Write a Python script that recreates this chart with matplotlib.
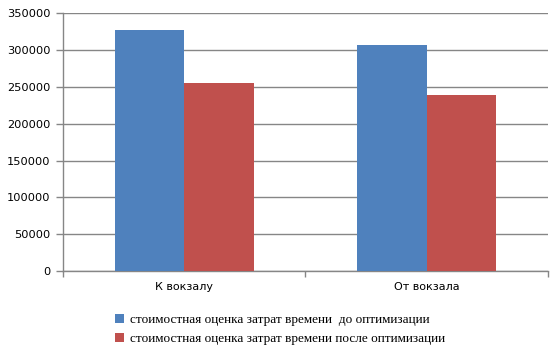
import matplotlib
matplotlib.use("Agg")
import matplotlib.pyplot as plt
import numpy as np

# values
categories = ["К вокзалу", "От вокзала"]
before_opt = [327000, 306500]
after_opt = [255500, 239000]
series_names = [
    "стоимостная оценка затрат времени  до оптимизации",
    "стоимостная оценка затрат времени после оптимизации",
]
y_ticks = [0, 50000, 100000, 150000, 200000, 250000, 300000, 350000]

blue = "#4F81BD"
red = "#C0504D"
grid_gray = "#868686"

fig = plt.figure(figsize=(5.59, 3.49), dpi=100)
ax = fig.add_axes([0.1127, 0.2235, 0.8676, 0.7385])

x = np.arange(len(categories))
w = 1 / 3.5
ax.bar(x - w / 2, before_opt, w, color=blue, zorder=3, label=series_names[0])
ax.bar(x + w / 2, after_opt, w, color=red, zorder=3, label=series_names[1])

ax.set_xlim(-0.5, len(categories) - 0.5)
ax.set_ylim(0, 350000)
ax.set_yticks(y_ticks)
ax.set_yticklabels([str(v) for v in y_ticks], fontsize=8.2, family="DejaVu Sans")
ax.yaxis.grid(True, color=grid_gray, linewidth=1, zorder=0)

# category labels sit between boundary ticks
ax.set_xticks(np.arange(len(categories) + 1) - 0.5)
ax.set_xticklabels([])
ax.set_xticks(x, minor=True)
ax.set_xticklabels(categories, minor=True, fontsize=8, family="DejaVu Sans")
ax.tick_params(axis="x", which="minor", length=0, pad=8)
ax.tick_params(axis="x", which="major", length=4, color=grid_gray, width=1)
ax.tick_params(axis="y", length=5, color=grid_gray, width=1, pad=4)

for side in ["top", "right"]:
    ax.spines[side].set_visible(False)
for side in ["left", "bottom"]:
    ax.spines[side].set_color(grid_gray)
    ax.spines[side].set_linewidth(1)

ax.legend(
    loc="upper left",
    bbox_to_anchor=(0.206, 0.101),
    bbox_transform=fig.transFigure,
    frameon=False,
    prop={"family": "Liberation Serif", "size": 9.5},
    handlelength=0.7,
    handleheight=0.7,
    handletextpad=0.4,
    labelspacing=0.55,
    borderaxespad=0,
    borderpad=0,
)

fig.savefig("out.png", dpi=100)
